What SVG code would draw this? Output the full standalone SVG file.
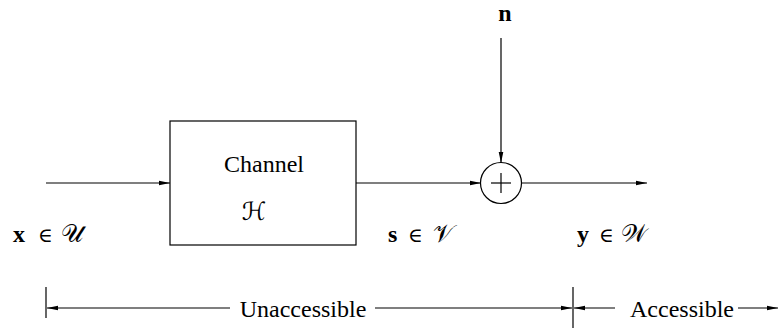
<svg xmlns="http://www.w3.org/2000/svg" width="778" height="329" viewBox="0 0 778 329">
<style>
.ln{stroke:#000;stroke-width:1.2;fill:none}
.tx{font-family:'Liberation Serif',serif;font-size:24px;fill:#000}
.bd{font-family:'Liberation Serif',serif;font-weight:bold;font-size:24px;fill:#000}
.mt{font-family:'DejaVu Serif',serif;font-size:20px;fill:#000}
.cal{font-family:'DejaVu Serif','DejaVu Sans',serif;font-size:25px;fill:#000}
</style>
<defs>
<marker id="ah" markerWidth="12" markerHeight="8" refX="11" refY="4" orient="auto" markerUnits="userSpaceOnUse">
<path d="M0,1.7 L11,4 L0,6.3 Z" fill="#000"/>
</marker>
</defs>
<rect width="778" height="329" fill="#fff"/>
<g id="connectors">
<line class="ln" x1="46" y1="183" x2="170" y2="183" marker-end="url(#ah)"/>
<line class="ln" x1="356" y1="183" x2="481" y2="183" marker-end="url(#ah)"/>
<line class="ln" x1="501" y1="38" x2="501" y2="163" marker-end="url(#ah)"/>
<line class="ln" x1="522" y1="183" x2="647" y2="183" marker-end="url(#ah)"/>
</g>
<g id="channel">
<rect x="170" y="121" width="186" height="124" class="ln"/>
<text class="tx" font-family="Liberation Serif" x="264" y="172" text-anchor="middle">Channel</text>
<text class="cal" x="254" y="220" text-anchor="middle">ℋ</text>
</g>
<g id="adder">
<circle cx="501" cy="183" r="20.5" class="ln"/>
<line class="ln" x1="491" y1="183" x2="511" y2="183"/>
<line class="ln" x1="501" y1="173" x2="501" y2="193"/>
</g>
<g id="noise">
<text class="bd" x="505" y="21" text-anchor="middle">n</text>
</g>
<g id="labels">
<text y="242"><tspan class="bd" x="13">x</tspan><tspan class="mt" x="38">∈</tspan><tspan class="cal" x="61">𝒰</tspan></text>
<text y="242"><tspan class="bd" x="388">s</tspan><tspan class="mt" x="408">∈</tspan><tspan class="cal" x="433">𝒱</tspan></text>
<text y="242"><tspan class="bd" x="577">y</tspan><tspan class="mt" x="599">∈</tspan><tspan class="cal" x="621">𝒲</tspan></text>
</g>
<g id="ranges">
<line class="ln" x1="46" y1="287" x2="46" y2="318"/>
<line class="ln" x1="573" y1="287" x2="573" y2="328"/>
<line class="ln" x1="230" y1="308" x2="47" y2="308" marker-end="url(#ah)"/>
<text class="tx" font-family="Liberation Serif" x="303" y="317" text-anchor="middle">Unaccessible</text>
<line class="ln" x1="375" y1="308" x2="572" y2="308" marker-end="url(#ah)"/>
<line class="ln" x1="615" y1="308" x2="574" y2="308" marker-end="url(#ah)"/>
<text class="tx" font-family="Liberation Serif" x="682" y="317" text-anchor="middle">Accessible</text>
<line class="ln" x1="738" y1="308" x2="778" y2="308" marker-end="url(#ah)"/>
</g>
</svg>
